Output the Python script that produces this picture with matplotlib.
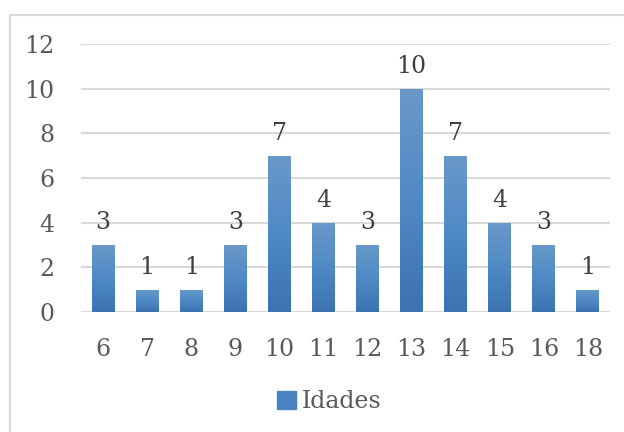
import numpy as np
import matplotlib
matplotlib.use("Agg")
import matplotlib.pyplot as plt
from matplotlib.patches import Rectangle
from matplotlib.colors import LinearSegmentedColormap

ages = ["6", "7", "8", "9", "10", "11", "12", "13", "14", "15", "16", "18"]
counts = [3, 1, 1, 3, 7, 4, 3, 10, 7, 4, 3, 1]
yticks = [0, 2, 4, 6, 8, 10, 12]
series_name = "Idades"

plt.rcParams['font.family'] = ['DejaVu Serif', 'Liberation Serif']
text_gray = "#595959"
fs = 17

fig = plt.figure(figsize=(6.24, 4.32), dpi=100)
ax = fig.add_axes([81 / 624, 1 - 312 / 432, 529 / 624, 268 / 432])

# outer chart frame (clipped at right and bottom like the screenshot)
fig.patches.append(Rectangle((10 / 624, -0.1), 1.2, 1.1 - 15 / 432,
                             transform=fig.transFigure, fill=False,
                             edgecolor="#d9d9d9", linewidth=1.5))

x = np.arange(len(ages))
bars = ax.bar(x, counts, width=0.52, color="#4a84c0", zorder=3)

# vertical gradient inside each bar
cmap = LinearSegmentedColormap.from_list("bar", ["#3b73b0", "#4f8ac5", "#6a99c9"])
grad = np.linspace(0, 1, 256).reshape(-1, 1)
for b in bars:
    bx, by = b.get_x(), b.get_y()
    bw, bh = b.get_width(), b.get_height()
    im = ax.imshow(grad, cmap=cmap, origin="lower", aspect="auto",
                   extent=[bx, bx + bw, by, by + bh], zorder=3.5)
    im.set_clip_path(b)

for xi, v in zip(x, counts):
    ax.annotate(str(v), (xi, v), xytext=(0, 8), textcoords="offset points",
                ha="center", va="bottom", fontsize=fs, color="#404040")

ax.set_xlim(-0.5, len(ages) - 0.5)
ax.set_ylim(0, 12)
ax.set_yticks(yticks)
ax.set_xticks(x)
ax.set_xticklabels(ages)
ax.tick_params(axis="both", length=0, labelsize=fs, labelcolor=text_gray)
ax.tick_params(axis="x", pad=19)
ax.tick_params(axis="y", pad=19)
ax.grid(axis="y", color="#d9d9d9", linewidth=1.5, zorder=0)
for s in ax.spines.values():
    s.set_visible(False)

handle = Rectangle((0, 0), 1, 1, color="#4a84c0")
leg = fig.legend([handle], [series_name], loc="center",
                 bbox_to_anchor=(329 / 624, 1 - 402 / 432), frameon=False,
                 fontsize=fs, handlelength=0.8, handleheight=0.8,
                 handletextpad=0.25)
for t in leg.get_texts():
    t.set_color(text_gray)

fig.savefig("out.png", dpi=100)
